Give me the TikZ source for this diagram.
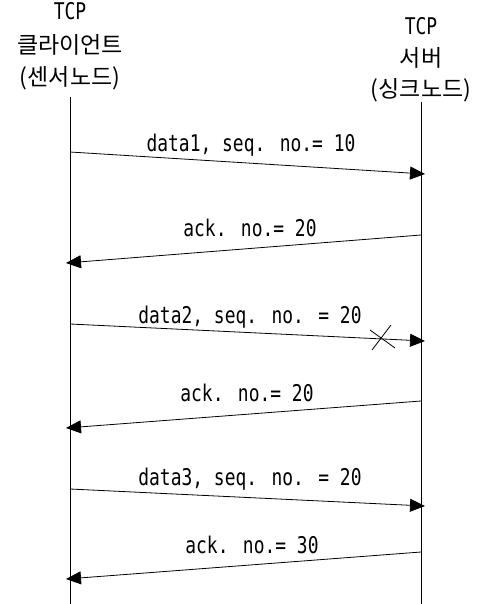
\documentclass[tikz,border=0pt]{standalone}
\usepackage{fontspec}
\setmainfont{Noto Sans CJK KR}
\newfontfamily\latinmono[FakeStretch=0.78]{DejaVu Sans Mono}
\usetikzlibrary{arrows.meta}
\tikzset{
  lifeline/.style={line width=0.8pt},
  msg/.style={line width=0.8pt, -{Triangle[length=15pt,width=13pt]}},
  hdr/.style={anchor=base, inner sep=0pt, font=\latinmono\fontsize{23}{26}\selectfont},
  hdrkr/.style={anchor=base, inner sep=0pt, font=\fontsize{23}{26}\selectfont},
  lbl/.style={anchor=base, inner sep=0pt, font=\latinmono\fontsize{23}{26}\selectfont},
  lossmark/.style={line width=0.8pt}
}
\begin{document}
\begin{tikzpicture}[x=1pt,y=-1pt]
\useasboundingbox (0,0) rectangle (476,604);

% column headers
\node[hdr]   (cl1) at (70,20) {TCP};
\node[hdrkr] (cl2) at (70,54) {클라이언트};
\node[hdrkr] (cl3) at (70,86) {(센서노드)};
\node[hdr]   (sv1) at (421,35) {TCP};
\node[hdrkr] (sv2) at (421,67) {서버};
\node[hdrkr] (sv3) at (421,98) {(싱크노드)};

% lifelines
\coordinate (ctop) at (70,97);
\coordinate (cbot) at (70,604);
\coordinate (stop) at (421,102);
\coordinate (sbot) at (421,604);
\draw[lifeline] (ctop) -- (cbot);
\draw[lifeline] (stop) -- (sbot);

% message end points
\coordinate (m1a) at (70,152);  \coordinate (m1b) at (425,174);
\coordinate (m2a) at (421,235); \coordinate (m2b) at (66,263);
\coordinate (m3a) at (70,324);  \coordinate (m3b) at (425,341);
\coordinate (m4a) at (421,401); \coordinate (m4b) at (66,428);
\coordinate (m5a) at (70,489);  \coordinate (m5b) at (425,506);
\coordinate (m6a) at (421,552); \coordinate (m6b) at (66,579);

\draw[msg] (m1a) -- (m1b);
\draw[msg] (m2a) -- (m2b);
\draw[msg] (m3a) -- (m3b);
\draw[msg] (m4a) -- (m4b);
\draw[msg] (m5a) -- (m5b);
\draw[msg] (m6a) -- (m6b);

% message labels
\node[lbl] (l1) at (251,152) {data1, seq. no.= 10};
\node[lbl] (l2) at (250,236) {ack. no.= 20};
\node[lbl] (l3) at (250,323) {data2, seq. no. = 20};
\node[lbl] (l4) at (247,401) {ack. no.= 20};
\node[lbl] (l5) at (250,485) {data3, seq. no. = 20};
\node[lbl] (l6) at (252,553) {ack. no.= 30};

% lost segment mark
\coordinate (xa) at (370,330); \coordinate (xb) at (395,348);
\coordinate (xc) at (372,350); \coordinate (xd) at (391,325);
\draw[lossmark] (xa) -- (xb);
\draw[lossmark] (xc) -- (xd);
\end{tikzpicture}
\end{document}
